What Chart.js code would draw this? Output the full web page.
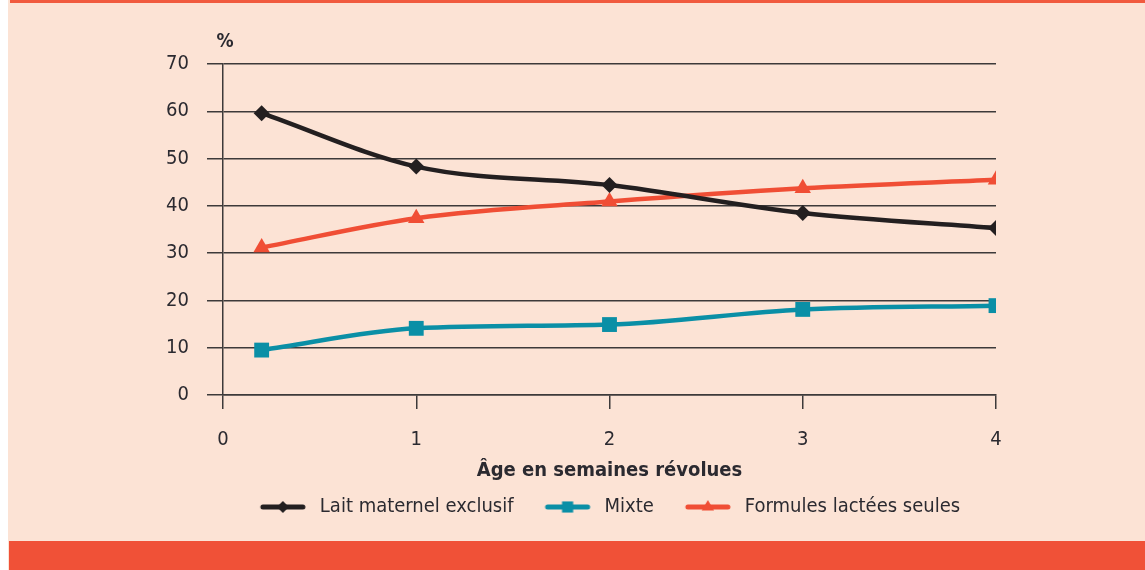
<!DOCTYPE html>
<html>
<head>
<meta charset="utf-8">
<script src="https://cdn.jsdelivr.net/npm/chart.js@4"></script>
<style>
  html, body { margin: 0; padding: 0; background: #fff; }
  #frame { position: absolute; left: 8px; top: 0; width: 1137px; height: 570px; background: #fce3d5; }
  #topbar { position: absolute; left: 2px; top: 0; right: 0; height: 3px; background: #f15a3e; }
  #bottombar { position: absolute; left: 1px; bottom: 0; right: 0; height: 29px; background: #f05137; }
  #wrap { position: absolute; left: 0; top: 0; width: 1145px; height: 570px; }
</style>
</head>
<body>
<div id="frame"><div id="topbar"></div><div id="bottombar"></div></div>
<div id="wrap"><canvas id="myChart" width="1145" height="570"></canvas></div>
<script>
(() => {
  "use strict";

  // Data
  const weeks = [0.2, 1, 2, 3, 4];
  const laitMaternel = [59.6, 48.3, 44.4, 38.5, 35.3];
  const mixte = [9.5, 14.1, 14.9, 18.1, 18.9];
  const formules = [31.2, 37.4, 40.9, 43.7, 45.5];
  const seriesNames = ["Lait maternel exclusif", "Mixte", "Formules lactées seules"];
  const yUnit = "%";
  const xTitle = "Âge en semaines révolues";

  const FONT = "'Liberation Sans Narrow', 'DejaVu Sans Condensed', 'Roboto Condensed', sans-serif";
  const TEXT = "#2b2a30";
  const GRID = "#3d3a3a";
  const colors = ["#231f20", "#0a8fa6", "#f04e35"];
  const styles = ["rectRot", "rect", "triangle"];
  const radii = [8, 10.5, 9.5];

  const toXY = (vals) => vals.map((v, i) => ({ x: weeks[i], y: v }));

  // legend swatch: short line with the marker in the middle
  function legendIcon(i) {
    const c = document.createElement("canvas");
    c.width = 51;
    c.height = 18;
    const g = c.getContext("2d");
    g.strokeStyle = colors[i];
    g.lineWidth = 5;
    g.lineCap = "round";
    g.beginPath();
    g.moveTo(4, 9);
    g.lineTo(44, 9);
    g.stroke();
    g.fillStyle = colors[i];
    Chart.helpers.drawPoint(g, { pointStyle: styles[i], radius: radii[i] * 0.75, rotation: 0, borderWidth: 0 }, 24, 9);
    return c;
  }
  const icons = [0, 1, 2].map(legendIcon);

  const unitLabel = {
    id: "unitLabel",
    afterDraw(chart) {
      const y = chart.scales.y;
      const ctx = chart.ctx;
      ctx.save();
      ctx.font = "bold 19px " + FONT;
      ctx.fillStyle = TEXT;
      ctx.textAlign = "center";
      ctx.textBaseline = "middle";
      ctx.fillText(yUnit, chart.chartArea.left + 2, y.top - 22);
      ctx.restore();
    },
  };

  const series = [laitMaternel, mixte, formules];

  const ctx = document.getElementById("myChart");
  // eslint-disable-next-line no-unused-vars
  const myChart = new Chart(ctx, {
    type: "line",
    data: {
      datasets: series.map((vals, i) => ({
        label: seriesNames[i],
        data: toXY(vals),
        borderColor: colors[i],
        backgroundColor: colors[i],
        borderWidth: 4.5,
        cubicInterpolationMode: "monotone",
        pointStyle: styles[i],
        pointRadius: radii[i],
        pointBorderWidth: 0,
        pointBackgroundColor: colors[i],
        fill: false,
      })),
    },
    options: {
      responsive: false,
      animation: false,
      layout: { padding: { left: 120, right: 149, top: 64, bottom: 43 } },
      plugins: {
        legend: {
          position: "bottom",
          fullSize: false,
          labels: {
            usePointStyle: true,
            pointStyleWidth: 51,
            padding: 30,
            color: TEXT,
            font: { family: FONT, size: 20 },
            generateLabels(chart) {
              const items = Chart.defaults.plugins.legend.labels.generateLabels(chart);
              items.forEach((it, i) => { it.pointStyle = icons[i]; });
              return items;
            },
          },
        },
        tooltip: { enabled: false },
      },
      scales: {
        x: {
          type: "linear",
          min: 0,
          max: 4,
          ticks: { stepSize: 1, color: TEXT, font: { family: FONT, size: 20, lineHeight: 1 }, padding: 21 },
          grid: { drawOnChartArea: false, drawTicks: true, tickLength: 14, color: GRID, lineWidth: 1.5 },
          border: { display: true, color: GRID, width: 1.5 },
          title: {
            display: true,
            text: xTitle,
            color: TEXT,
            font: { family: FONT, size: 20, weight: "bold" },
            padding: { top: -12, bottom: -16 },
          },
        },
        y: {
          min: 0,
          max: 70,
          ticks: { stepSize: 10, color: TEXT, font: { family: FONT, size: 20 }, padding: 18 },
          grid: { color: GRID, lineWidth: 1.5, tickLength: 16 },
          border: { display: true, color: GRID, width: 1.5 },
          afterFit(scale) { scale.width = 103; },
        },
      },
    },
    plugins: [unitLabel],
  });
})();
</script>
</body>
</html>
